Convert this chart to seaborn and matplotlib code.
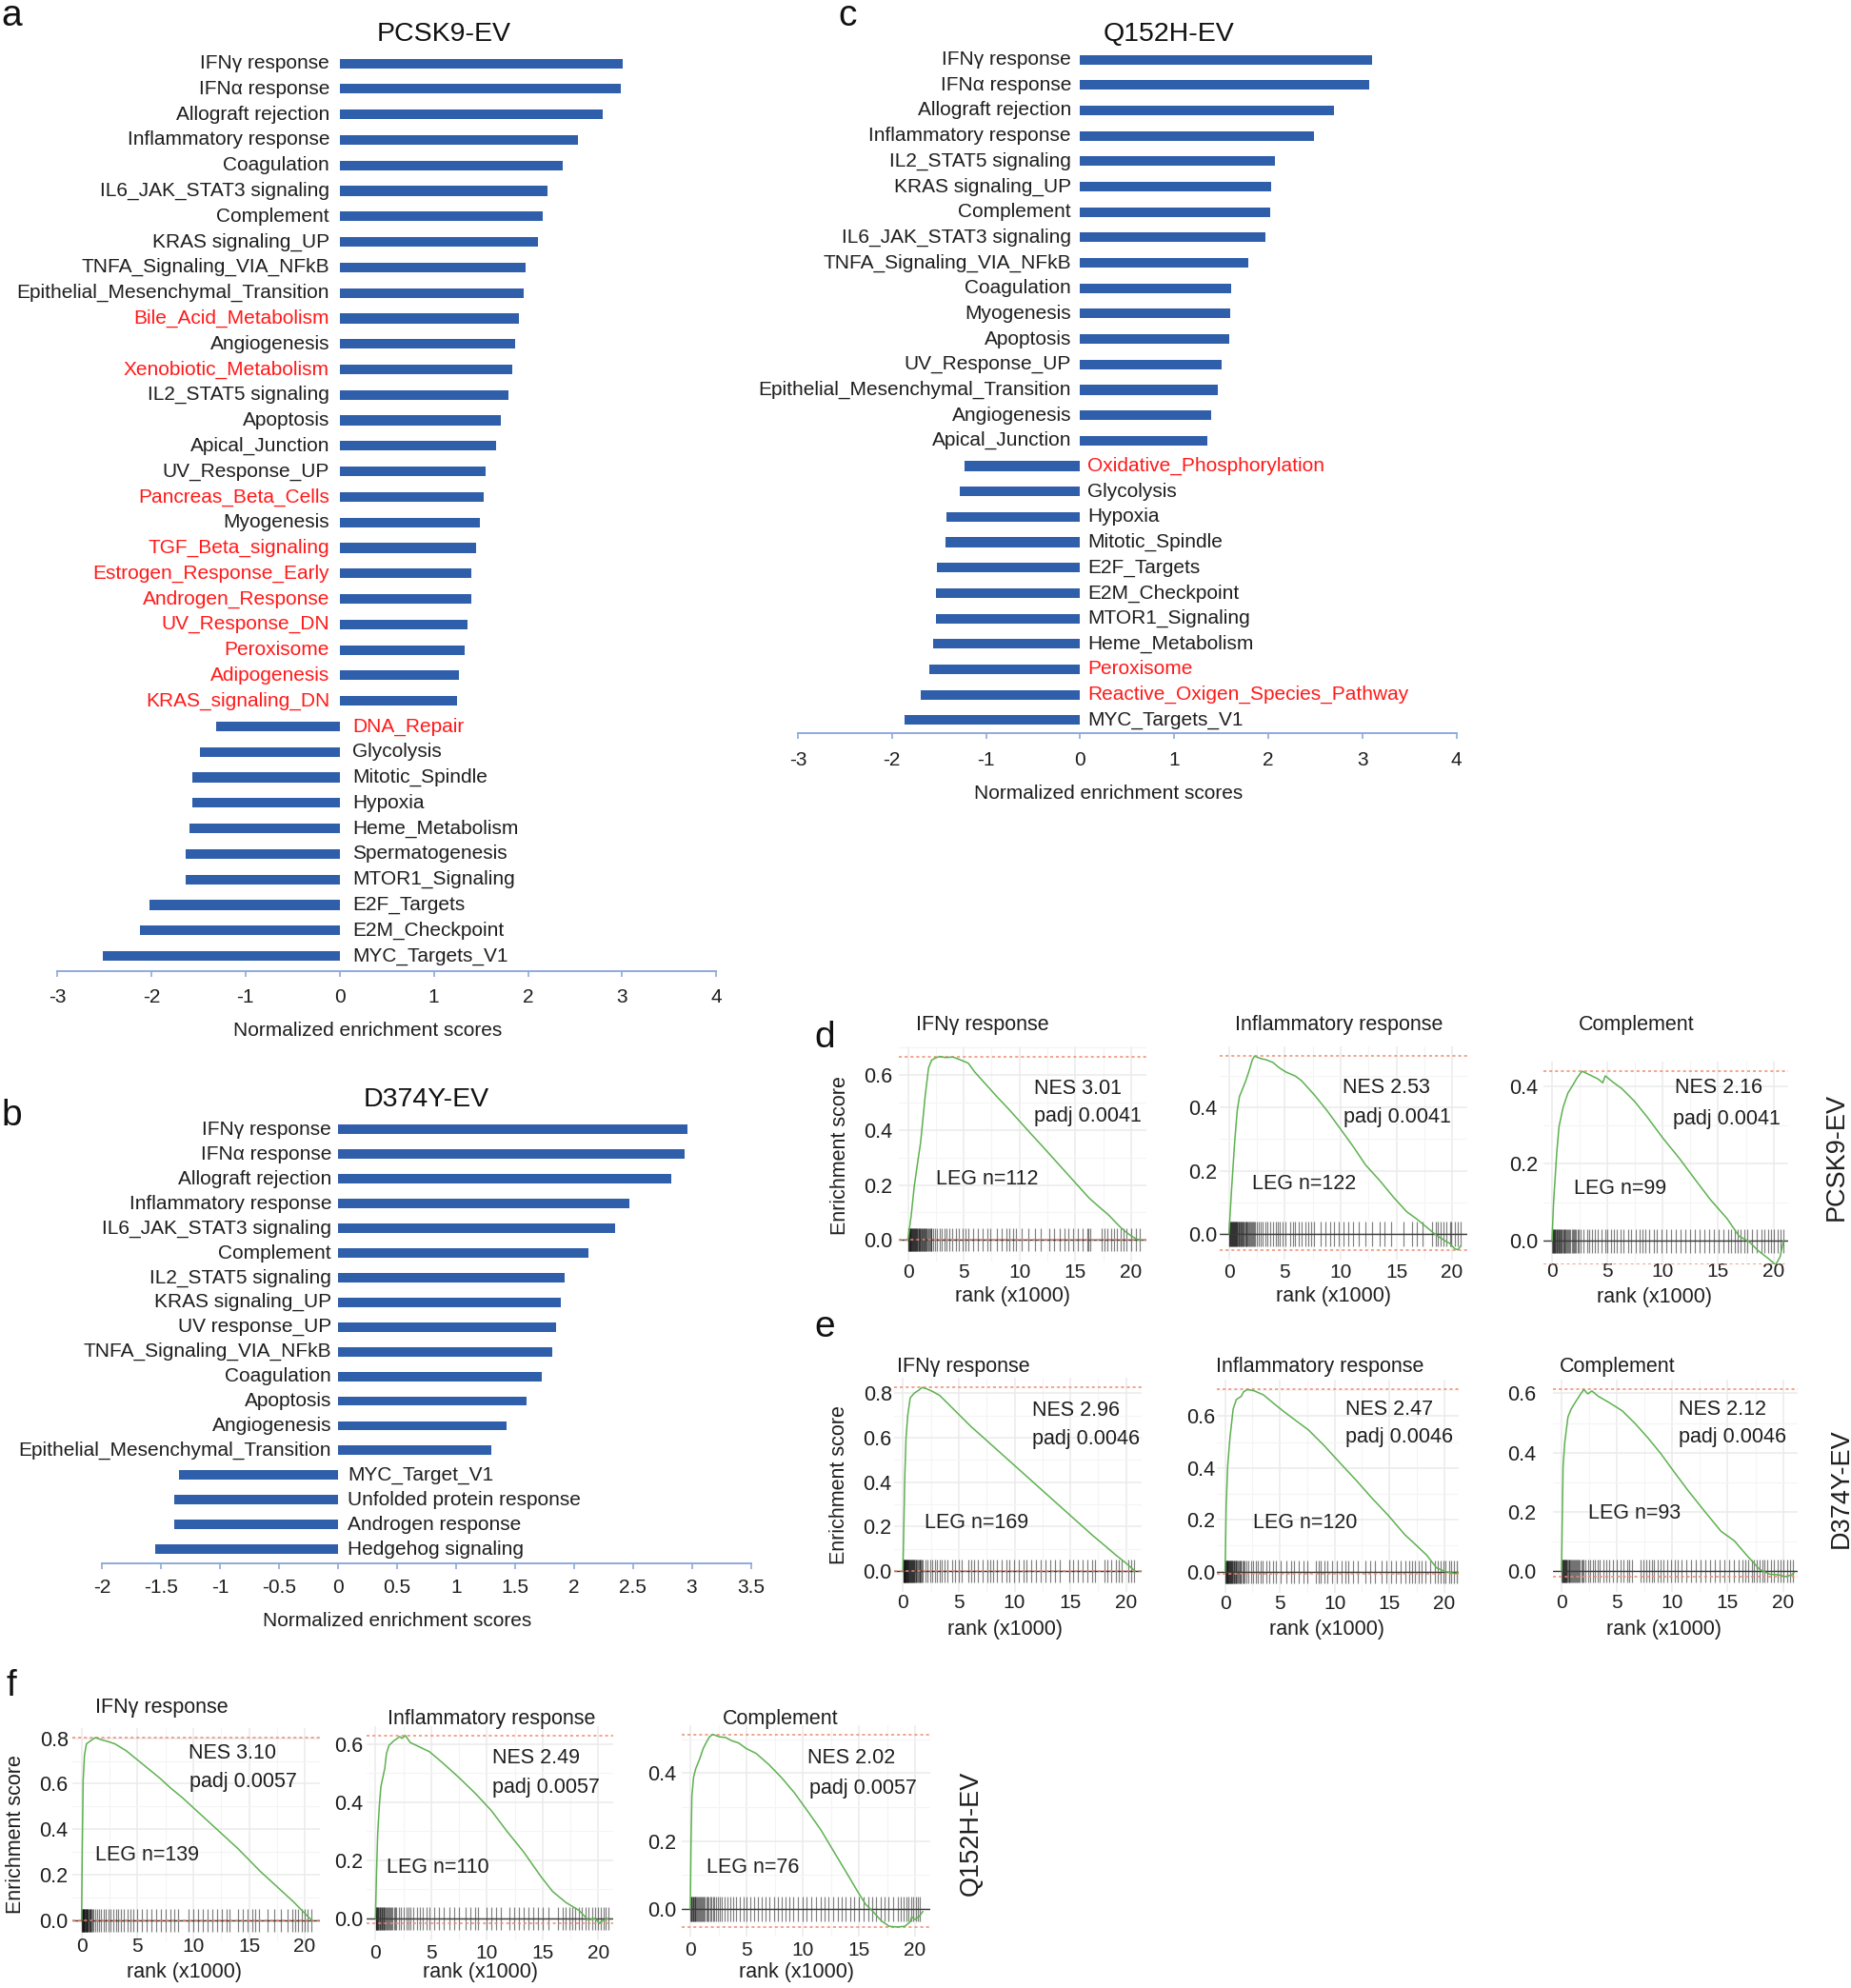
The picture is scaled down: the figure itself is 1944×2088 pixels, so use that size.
import numpy as np
import pandas as pd
import matplotlib
matplotlib.use("Agg")
import matplotlib.pyplot as plt
from matplotlib.transforms import offset_copy
import seaborn as sns

sns.set_theme(style="white")
plt.rcParams["font.family"] = ["Liberation Sans", "DejaVu Sans"]
plt.rcParams["axes.unicode_minus"] = False

# ------------------------------------------------------------------ data
a_terms = ["IFNγ response", "IFNα response", "Allograft rejection", "Inflammatory response",
           "Coagulation", "IL6_JAK_STAT3 signaling", "Complement", "KRAS signaling_UP",
           "TNFA_Signaling_VIA_NFkB", "Epithelial_Mesenchymal_Transition", "Bile_Acid_Metabolism",
           "Angiogenesis", "Xenobiotic_Metabolism", "IL2_STAT5 signaling", "Apoptosis",
           "Apical_Junction", "UV_Response_UP", "Pancreas_Beta_Cells", "Myogenesis",
           "TGF_Beta_signaling", "Estrogen_Response_Early", "Androgen_Response", "UV_Response_DN",
           "Peroxisome", "Adipogenesis", "KRAS_signaling_DN", "DNA_Repair", "Glycolysis",
           "Mitotic_Spindle", "Hypoxia", "Heme_Metabolism", "Spermatogenesis", "MTOR1_Signaling",
           "E2F_Targets", "E2M_Checkpoint", "MYC_Targets_V1"]
a_nes = [3.01, 2.99, 2.79, 2.53, 2.37, 2.21, 2.16, 2.11, 1.97, 1.95, 1.90, 1.86, 1.83, 1.79,
         1.71, 1.66, 1.55, 1.53, 1.49, 1.45, 1.40, 1.40, 1.36, 1.33, 1.27, 1.25, -1.31, -1.48,
         -1.56, -1.56, -1.59, -1.63, -1.64, -2.02, -2.12, -2.51]
a_red = ["Bile_Acid_Metabolism", "Xenobiotic_Metabolism", "Pancreas_Beta_Cells", "TGF_Beta_signaling",
         "Estrogen_Response_Early", "Androgen_Response", "UV_Response_DN", "Peroxisome",
         "Adipogenesis", "KRAS_signaling_DN", "DNA_Repair"]

b_terms = ["IFNγ response", "IFNα response", "Allograft rejection", "Inflammatory response",
           "IL6_JAK_STAT3 signaling", "Complement", "IL2_STAT5 signaling", "KRAS signaling_UP",
           "UV response_UP", "TNFA_Signaling_VIA_NFkB", "Coagulation", "Apoptosis", "Angiogenesis",
           "Epithelial_Mesenchymal_Transition", "MYC_Target_V1", "Unfolded protein response",
           "Androgen response", "Hedgehog signaling"]
b_nes = [2.96, 2.94, 2.83, 2.47, 2.35, 2.12, 1.92, 1.89, 1.85, 1.82, 1.73, 1.60, 1.43, 1.30,
         -1.35, -1.39, -1.39, -1.55]
b_red = []

c_terms = ["IFNγ response", "IFNα response", "Allograft rejection", "Inflammatory response",
           "IL2_STAT5 signaling", "KRAS signaling_UP", "Complement", "IL6_JAK_STAT3 signaling",
           "TNFA_Signaling_VIA_NFkB", "Coagulation", "Myogenesis", "Apoptosis", "UV_Response_UP",
           "Epithelial_Mesenchymal_Transition", "Angiogenesis", "Apical_Junction",
           "Oxidative_Phosphorylation", "Glycolysis", "Hypoxia", "Mitotic_Spindle", "E2F_Targets",
           "E2M_Checkpoint", "MTOR1_Signaling", "Heme_Metabolism", "Peroxisome",
           "Reactive_Oxigen_Species_Pathway", "MYC_Targets_V1"]
c_nes = [3.10, 3.07, 2.70, 2.49, 2.07, 2.03, 2.02, 1.97, 1.79, 1.61, 1.60, 1.59, 1.50, 1.46,
         1.39, 1.35, -1.23, -1.28, -1.42, -1.43, -1.52, -1.53, -1.53, -1.56, -1.60, -1.69, -1.87]
c_red = ["Oxidative_Phosphorylation", "Peroxisome", "Reactive_Oxigen_Species_Pathway"]

bar_titles = ["PCSK9-EV", "D374Y-EV", "Q152H-EV"]
a_ticks = [-3, -2, -1, 0, 1, 2, 3, 4]
a_ticklabels = ["-3", "-2", "-1", "0", "1", "2", "3", "4"]
b_ticks = [-2, -1.5, -1, -0.5, 0, 0.5, 1, 1.5, 2, 2.5, 3, 3.5]
b_ticklabels = ["-2", "-1.5", "-1", "-0.5", "0", "0.5", "1", "1.5", "2", "2.5", "3", "3.5"]
c_ticks = [-3, -2, -1, 0, 1, 2, 3, 4]
c_ticklabels = ["-3", "-2", "-1", "0", "1", "2", "3", "4"]

# GSEA running enrichment curves (rank in thousands, enrichment score)
d_ifng_k = [0, 0.3, 0.57, 0.85, 1.14, 1.35, 1.56, 1.85, 2.13, 2.5, 2.84, 3.4, 4.0, 4.5, 5.4, 6.0,
            7.0, 8.0, 9.0, 10.0, 11.0, 12.0, 13.0, 14.0, 15.0, 16.0, 16.3, 17.0, 18.0, 19.0,
            19.5, 20.0, 20.5, 20.9]
d_ifng_es = [0, 0.09, 0.195, 0.275, 0.354, 0.44, 0.527, 0.625, 0.654, 0.662, 0.667, 0.663, 0.665,
             0.658, 0.643, 0.61, 0.565, 0.52, 0.477, 0.432, 0.387, 0.343, 0.298, 0.253, 0.208,
             0.163, 0.15, 0.125, 0.09, 0.048, 0.03, 0.015, 0.003, 0.0]
d_ifng_hits = [0.03, 0.07, 0.1, 0.14, 0.18, 0.21, 0.25, 0.29, 0.33, 0.37, 0.41, 0.45, 0.49, 0.53,
               0.58, 0.62, 0.66, 0.71, 0.75, 0.8, 0.85, 0.89, 0.94, 0.99, 1.04, 1.09, 1.14, 1.2,
               1.25, 1.31, 1.37, 1.43, 1.49, 1.55, 1.62, 1.68, 1.75, 1.82, 1.9, 1.97, 2.05, 2.13,
               2.22, 2.41, 2.61, 2.84, 3.07, 3.27, 3.47, 3.69, 3.98, 4.32, 4.55, 4.89, 5.17, 5.4,
               5.82, 6.25, 6.68, 7.1, 7.39, 7.95, 8.38, 8.81, 9.09, 9.43, 9.66, 10.23, 10.8,
               11.36, 11.93, 12.64, 13.07, 13.64, 14.06, 14.35, 14.77, 15.2, 15.63, 16.05, 16.19,
               16.34, 17.33, 17.61, 17.9, 18.18, 18.47, 18.75, 19.03, 19.32, 19.6, 20.03, 20.45,
               20.74]

d_inflam_k = [0, 0.23, 0.51, 0.74, 0.94, 1.23, 1.51, 1.8, 2.09, 2.29, 2.8, 3.37, 3.94, 4.51, 5.09,
              5.94, 6.51, 7.66, 8.8, 9.94, 11.09, 12.23, 13.51, 14.8, 15.94, 16.8, 17.66, 18.51,
              19.37, 19.8, 20.23, 20.51, 20.8]
d_inflam_es = [0, 0.139, 0.29, 0.39, 0.435, 0.46, 0.485, 0.516, 0.551, 0.563, 0.556, 0.551, 0.543,
               0.526, 0.513, 0.5, 0.485, 0.44, 0.39, 0.335, 0.279, 0.219, 0.169, 0.114, 0.07,
               0.048, 0.023, -0.002, -0.022, -0.03, -0.047, -0.05, -0.037]
d_inflam_hits = [0.02, 0.06, 0.1, 0.13, 0.17, 0.21, 0.25, 0.29, 0.33, 0.37, 0.42, 0.46, 0.5, 0.55,
                 0.6, 0.64, 0.69, 0.74, 0.79, 0.84, 0.9, 0.95, 1.01, 1.07, 1.13, 1.19, 1.25, 1.31,
                 1.38, 1.45, 1.52, 1.59, 1.66, 1.74, 1.82, 1.9, 1.98, 2.07, 2.16, 2.26, 2.36, 2.47,
                 2.66, 2.86, 3.03, 3.23, 3.43, 3.66, 3.94, 4.17, 4.37, 4.57, 4.8, 5.09, 5.51, 5.71,
                 5.94, 6.29, 6.51, 6.86, 7.09, 7.37, 7.66, 8.23, 8.66, 9.09, 9.37, 9.8, 10.23,
                 10.66, 11.09, 11.66, 12.23, 12.8, 13.51, 13.94, 14.51, 15.66, 16.37, 16.8, 17.37,
                 18.23, 18.51, 18.74, 18.94, 19.23, 19.51, 19.8, 19.94, 20.23, 20.51, 20.8]

d_comp_k = [0, 0.14, 0.43, 0.63, 1.0, 1.43, 1.86, 2.29, 2.72, 3.44, 4.15, 4.58, 4.81, 5.44, 6.3,
            7.45, 8.6, 10.0, 11.5, 12.9, 14.3, 15.8, 16.9, 17.8, 18.6, 19.5, 20.2, 20.6, 20.9]
d_comp_es = [0, 0.099, 0.23, 0.296, 0.346, 0.383, 0.403, 0.424, 0.44, 0.43, 0.42, 0.41, 0.428,
             0.413, 0.395, 0.362, 0.321, 0.267, 0.214, 0.16, 0.107, 0.058, 0.012, -0.002, -0.025,
             -0.045, -0.062, -0.041, 0.0]
d_comp_hits = [0.02, 0.06, 0.1, 0.15, 0.19, 0.24, 0.29, 0.34, 0.39, 0.44, 0.5, 0.56, 0.62, 0.68,
               0.74, 0.8, 0.87, 0.94, 1.01, 1.08, 1.16, 1.24, 1.32, 1.4, 1.49, 1.58, 1.67, 1.77,
               1.87, 1.97, 2.08, 2.19, 2.3, 2.42, 2.55, 2.87, 3.15, 3.38, 3.58, 3.87, 4.15, 4.44,
               4.81, 5.01, 5.3, 5.59, 5.87, 6.16, 6.45, 6.88, 7.16, 7.59, 7.88, 8.17, 8.45, 8.74,
               9.17, 9.46, 9.89, 10.32, 10.74, 11.17, 11.6, 12.03, 12.46, 12.89, 13.32, 13.75,
               14.18, 14.61, 15.04, 15.47, 15.9, 16.19, 16.48, 16.76, 17.05, 17.34, 17.62, 18.05,
               18.48, 18.91, 19.2, 19.48, 19.77, 20.06, 20.34, 20.63, 20.86]

e_ifng_k = [0, 0.085, 0.17, 0.28, 0.43, 0.65, 1.0, 1.42, 1.71, 2.13, 2.7, 3.3, 4.0, 5.0, 6.1, 7.0,
            8.0, 9.0, 10.0, 11.0, 12.0, 13.0, 14.0, 15.0, 16.0, 17.0, 18.0, 19.0, 20.0, 20.8]
e_ifng_es = [0, 0.214, 0.43, 0.6, 0.7, 0.779, 0.8, 0.814, 0.826, 0.82, 0.807, 0.79, 0.755, 0.705,
             0.65, 0.61, 0.565, 0.52, 0.475, 0.43, 0.385, 0.34, 0.295, 0.25, 0.205, 0.16, 0.118,
             0.075, 0.035, 0.0]
e_ifng_hits = [0.02, 0.05, 0.08, 0.11, 0.14, 0.17, 0.2, 0.23, 0.27, 0.3, 0.33, 0.37, 0.4, 0.44,
               0.47, 0.51, 0.55, 0.59, 0.63, 0.67, 0.71, 0.75, 0.8, 0.84, 0.89, 0.94, 0.99, 1.04,
               1.09, 1.15, 1.21, 1.27, 1.33, 1.4, 1.47, 1.54, 1.62, 1.7, 1.78, 1.99, 2.19, 2.42,
               2.65, 2.84, 3.04, 3.27, 3.5, 3.7, 3.98, 4.41, 4.64, 4.98, 5.26, 5.83, 6.12, 6.4,
               6.69, 7.11, 7.54, 7.82, 8.11, 8.39, 8.82, 9.25, 9.53, 9.96, 10.38, 10.81, 11.1,
               11.52, 11.95, 12.38, 12.8, 13.23, 13.66, 14.03, 14.94, 15.22, 15.65, 16.07, 16.5,
               16.93, 17.21, 18.07, 18.35, 18.63, 19.06, 19.35, 19.63, 20.2, 20.48, 20.68]

e_inflam_k = [0, 0.09, 0.23, 0.44, 0.73, 1.02, 1.46, 1.69, 2.04, 2.63, 3.5, 4.38, 5.26, 6.42, 7.6,
              9.05, 10.5, 12.0, 13.4, 14.9, 16.4, 17.5, 18.4, 19.3, 20.1, 21.0, 21.3]
e_inflam_es = [0, 0.247, 0.407, 0.517, 0.627, 0.664, 0.676, 0.694, 0.703, 0.698, 0.682, 0.651,
               0.621, 0.584, 0.547, 0.486, 0.419, 0.351, 0.284, 0.217, 0.143, 0.1, 0.064, 0.015,
               0.0, -0.007, -0.004]
e_inflam_hits = [0.02, 0.05, 0.09, 0.12, 0.16, 0.19, 0.23, 0.27, 0.31, 0.35, 0.39, 0.43, 0.48,
                 0.52, 0.57, 0.62, 0.67, 0.72, 0.77, 0.83, 0.89, 0.95, 1.01, 1.08, 1.15, 1.22, 1.3,
                 1.38, 1.46, 1.55, 1.64, 1.73, 1.9, 2.1, 2.34, 2.57, 2.77, 2.98, 3.21, 3.45, 3.74,
                 4.03, 4.38, 4.67, 5.11, 5.55, 5.99, 6.28, 6.72, 7.15, 7.53, 8.32, 8.53, 8.76,
                 9.05, 9.34, 9.78, 10.22, 10.66, 10.95, 11.24, 11.68, 12.12, 12.85, 13.28, 13.72,
                 14.31, 14.74, 15.18, 15.62, 16.06, 16.5, 16.79, 17.08, 17.37, 17.66, 17.96,
                 18.25, 18.69, 19.12, 19.42, 19.71, 19.91, 20.15, 20.44, 20.67, 20.88, 21.17, 21.37]

e_comp_k = [0, 0.06, 0.14, 0.29, 0.58, 0.87, 1.3, 1.73, 2.02, 2.37, 2.74, 3.32, 4.33, 5.48, 6.64,
            7.79, 8.95, 10.1, 11.5, 13.0, 14.4, 15.6, 16.7, 17.9, 18.8, 19.6, 20.2, 20.8, 21.0]
e_comp_es = [0, 0.161, 0.354, 0.434, 0.52, 0.547, 0.573, 0.598, 0.613, 0.598, 0.608, 0.59, 0.568,
             0.541, 0.498, 0.45, 0.397, 0.338, 0.268, 0.198, 0.134, 0.102, 0.054, 0.005, -0.011,
             -0.013, -0.019, -0.013, -0.005]
e_comp_hits = [0.02, 0.06, 0.1, 0.14, 0.18, 0.23, 0.27, 0.32, 0.37, 0.42, 0.47, 0.53, 0.59, 0.65,
               0.71, 0.78, 0.85, 0.92, 1.0, 1.08, 1.17, 1.26, 1.35, 1.45, 1.55, 1.66, 1.77, 1.88,
               1.99, 2.16, 2.37, 2.6, 2.83, 3.03, 3.23, 3.46, 3.75, 4.04, 4.33, 4.68, 4.96, 5.34,
               5.63, 5.92, 6.12, 6.35, 7.16, 7.36, 7.65, 7.94, 8.14, 8.37, 8.66, 8.95, 9.24,
               9.52, 9.87, 10.25, 10.53, 10.82, 11.26, 11.69, 12.12, 12.55, 12.99, 13.42, 13.85,
               14.29, 14.72, 15.15, 15.58, 16.02, 16.31, 16.59, 16.88, 17.17, 17.37, 17.6, 17.89,
               18.12, 18.33, 18.61, 18.9, 19.19, 19.48, 19.77, 20.06, 20.35, 20.63, 20.92]

f_ifng_k = [0, 0.06, 0.14, 0.26, 0.43, 0.8, 1.23, 1.8, 2.4, 3.0, 4.0, 5.0, 6.0, 7.0, 8.0, 9.0,
            10.0, 11.0, 12.0, 13.0, 14.0, 15.0, 16.0, 17.0, 18.0, 19.0, 19.8, 20.6]
f_ifng_es = [0, 0.307, 0.615, 0.726, 0.775, 0.789, 0.803, 0.793, 0.785, 0.775, 0.745, 0.705, 0.665,
             0.625, 0.58, 0.54, 0.495, 0.45, 0.405, 0.36, 0.315, 0.265, 0.215, 0.17, 0.125, 0.08,
             0.04, 0.0]
f_ifng_hits = [0.02, 0.05, 0.08, 0.11, 0.14, 0.17, 0.2, 0.23, 0.26, 0.3, 0.33, 0.37, 0.41, 0.45,
               0.49, 0.53, 0.57, 0.62, 0.67, 0.72, 0.77, 0.83, 0.89, 0.95, 1.09, 1.23, 1.4, 1.58,
               1.75, 1.95, 2.15, 2.38, 2.61, 2.84, 3.09, 3.3, 3.52, 3.81, 4.1, 4.38, 4.61, 4.96,
               5.39, 5.82, 6.25, 6.68, 7.11, 7.54, 7.97, 8.34, 8.68, 9.54, 9.97, 10.4, 10.83,
               11.26, 11.69, 12.12, 12.55, 12.98, 13.27, 13.98, 14.41, 14.84, 15.27, 15.56, 15.9,
               16.7, 17.28, 17.85, 18.42, 18.85, 19.14, 19.43, 19.71, 20.0, 20.29, 20.57]

f_inflam_k = [0, 0.09, 0.2, 0.35, 0.49, 0.7, 0.84, 0.99, 1.22, 1.66, 2.18, 2.39, 2.68, 3.12, 3.99,
              4.86, 6.03, 7.48, 8.94, 10.4, 11.8, 13.3, 14.8, 15.9, 17.1, 18.3, 19.1, 19.7, 20.1,
              20.5, 20.9]
f_inflam_es = [0, 0.147, 0.289, 0.387, 0.453, 0.491, 0.516, 0.567, 0.595, 0.611, 0.625, 0.619,
               0.629, 0.605, 0.589, 0.573, 0.535, 0.485, 0.431, 0.371, 0.3, 0.229, 0.147, 0.093,
               0.055, 0.027, -0.005, 0.0, -0.016, -0.005, 0.0]
f_inflam_hits = [0.02, 0.06, 0.1, 0.14, 0.18, 0.23, 0.27, 0.32, 0.37, 0.42, 0.47, 0.53, 0.59,
                 0.65, 0.71, 0.78, 0.85, 0.92, 1.0, 1.08, 1.16, 1.25, 1.34, 1.44, 1.54, 1.65, 1.76,
                 1.88, 2.1, 2.3, 2.53, 2.77, 2.97, 3.17, 3.41, 3.7, 3.99, 4.28, 4.57, 4.86, 5.3,
                 5.74, 6.17, 6.61, 7.05, 7.48, 8.06, 8.5, 8.94, 9.23, 9.96, 10.39, 10.83, 11.27,
                 11.99, 12.43, 12.87, 13.3, 13.74, 14.18, 14.61, 15.05, 15.49, 16.36, 16.8, 17.09,
                 17.38, 17.67, 17.96, 18.25, 18.54, 18.84, 19.13, 19.42, 19.71, 20.0, 20.23,
                 20.47, 20.7, 20.93]

f_comp_k = [0, 0.06, 0.14, 0.29, 0.49, 0.86, 1.14, 1.43, 1.71, 2.0, 2.57, 3.14, 3.71, 4.29, 5.0,
            5.86, 7.0, 8.14, 9.29, 10.4, 11.6, 12.7, 13.9, 14.9, 15.6, 16.3, 17.0, 17.7, 18.4,
            19.1, 19.6, 19.7, 20.0, 20.4, 20.7]
f_comp_es = [0, 0.192, 0.332, 0.388, 0.414, 0.444, 0.472, 0.491, 0.507, 0.514, 0.507, 0.505,
             0.495, 0.489, 0.472, 0.458, 0.425, 0.386, 0.341, 0.29, 0.234, 0.173, 0.107, 0.051,
             0.014, -0.009, -0.035, -0.051, -0.053, -0.051, -0.037, -0.023, -0.031, -0.021,
             -0.007]
f_comp_hits = [0.02, 0.07, 0.12, 0.17, 0.22, 0.28, 0.34, 0.4, 0.46, 0.53, 0.6, 0.67, 0.75, 0.83,
               0.91, 1.0, 1.09, 1.19, 1.29, 1.4, 1.51, 1.63, 1.75, 1.88, 2.01, 2.15, 2.3, 2.46,
               2.62, 2.82, 3.05, 3.31, 3.53, 3.81, 4.1, 4.38, 4.72, 5.0, 5.37, 5.65, 6.02, 6.36,
               6.69, 7.06, 7.43, 7.77, 8.11, 8.47, 8.84, 9.18, 9.6, 9.97, 10.31, 10.73, 11.16,
               11.58, 11.95, 12.29, 12.71, 13.14, 13.47, 13.84, 14.27, 14.6, 14.97, 15.4, 15.82,
               16.19, 16.53, 16.95, 17.32, 17.66, 18.08, 18.45, 18.73, 19.01, 19.21, 19.41,
               19.63, 19.86, 20.06, 20.25, 20.42]

gsea_titles = ["IFNγ response", "Inflammatory response", "Complement"] * 3
gsea_nes = [3.01, 2.53, 2.16, 2.96, 2.47, 2.12, 3.10, 2.49, 2.02]
gsea_padj = ["0.0041", "0.0041", "0.0041", "0.0046", "0.0046", "0.0046", "0.0057", "0.0057", "0.0057"]
gsea_leg = [112, 122, 99, 169, 120, 93, 139, 110, 76]
gsea_rows = ["PCSK9-EV", "D374Y-EV", "Q152H-EV"]
rank_ticks = [0, 5, 10, 15, 20]

# ------------------------------------------------------------------ style / layout
W, H = 1944, 2088
BAR = "#2F5EAA"
AXBLUE = "#8EA9DB"
TXT = "#1E1E1E"
RED = "#FF1A1A"
GREEN = "#5DB14F"
REDDASH = "#F08A6E"

fig = plt.figure(figsize=(W / 100, H / 100), dpi=100)
fig.patch.set_facecolor("white")


def ftext(px, py, s, **kw):
    kw.setdefault("va", "center")
    kw.setdefault("color", TXT)
    return fig.text(px / W, 1 - py / H, s, **kw)


def bar_panel(terms, nes, red_terms, ticks, ticklabels, L):
    n = len(terms)
    sp = (L["last"] - L["first"]) / (n - 1)
    top_val = -0.8
    bot_val = (n - 1) + (L["axis"] - L["last"]) / sp
    top_px = L["first"] + top_val * sp
    ax = fig.add_axes([L["pxlo"] / W, 1 - L["axis"] / H,
                       (L["pxhi"] - L["pxlo"]) / W, (L["axis"] - top_px) / H])
    df = pd.DataFrame({"term": terms, "nes": nes})
    sns.barplot(data=df, x="nes", y="term", orient="h", color=BAR, saturation=1,
                width=0.38, linewidth=0, ax=ax)
    ax.set_xlim(L["xlo"], L["xhi"])
    ax.set_ylim(bot_val, top_val)
    ax.set_yticks([])
    ax.set_xlabel("")
    ax.set_ylabel("")
    for s in ["top", "right", "left"]:
        ax.spines[s].set_visible(False)
    ax.spines["bottom"].set_color(AXBLUE)
    ax.spines["bottom"].set_linewidth(1.4)
    ax.set_xticks(ticks)
    ax.set_xticklabels(ticklabels)
    pad = (L["tly"] - L["axis"] - 5.5 - 11.4) * 0.72
    ax.tick_params(axis="x", bottom=True, direction="out", length=4, width=1.2, color=AXBLUE,
                   labelsize=15, labelcolor=TXT, pad=pad)
    tpos = offset_copy(ax.transData, fig=fig, x=-L["gap_pos"] * 0.72, y=0, units="points")
    tneg = offset_copy(ax.transData, fig=fig, x=L["gap_neg"] * 0.72, y=0, units="points")
    for i, (t, v) in enumerate(zip(terms, nes)):
        c = RED if t in red_terms else TXT
        if v >= 0:
            ax.text(0, i, t, ha="right", va="center", fontsize=15, color=c, transform=tpos)
        else:
            ax.text(0, i, t, ha="left", va="center", fontsize=15, color=c, transform=tneg)
    return ax


bar_layout = {
    "a": dict(xlo=-3, xhi=4, pxlo=60, pxhi=752.3, first=66.6, last=1004, axis=1020,
              tly=1049, gap_pos=10.7, gap_neg=13.3, title=(466, 36), xlabel=(386, 1083)),
    "b": dict(xlo=-2, xhi=3.5, pxlo=107, pxhi=788.5, first=1186.4, last=1627.1, axis=1641.7,
              tly=1669.7, gap_pos=6.7, gap_neg=10.6, title=(447.4, 1155.5), xlabel=(416.8, 1703)),
    "c": dict(xlo=-3, xhi=4, pxlo=838, pxhi=1529.5, first=62.6, last=756.3, axis=769.6,
              tly=800.2, gap_pos=9.4, gap_neg=8, title=(1227.6, 36), xlabel=(1163.7, 833.5)),
}

for key, terms, nes, red, tk, tl, ttl in [
        ("a", a_terms, a_nes, a_red, a_ticks, a_ticklabels, bar_titles[0]),
        ("b", b_terms, b_nes, b_red, b_ticks, b_ticklabels, bar_titles[1]),
        ("c", c_terms, c_nes, c_red, c_ticks, c_ticklabels, bar_titles[2])]:
    L = bar_layout[key]
    bar_panel(terms, nes, red, tk, tl, L)
    ftext(*L["title"], ttl, ha="center", fontsize=20.5, color="#111111")
    ftext(*L["xlabel"], "Normalized enrichment scores", ha="center", fontsize=15)


def gsea_panel(k, es, hits, L):
    k = np.asarray(k, dtype=float)
    es = np.asarray(es, dtype=float)
    emax, emin = es.max(), es.min()
    h = (emax - emin) / 16
    lo, hi = min(emin, -h), max(emax, h)
    R = hi - lo
    ylim = (lo - L.get("exp_lo", 0.05) * R, hi + 0.05 * R)
    xlim = (-0.8, 21.35)
    left = L["x0"] + xlim[0] * L["pxk"]
    right = L["x0"] + xlim[1] * L["pxk"]
    top = L["y0"] - ylim[1] * L["pyu"]
    bottom = L["y0"] - ylim[0] * L["pyu"]
    ax = fig.add_axes([left / W, 1 - bottom / H, (right - left) / W, (bottom - top) / H])
    ax.set_facecolor("white")
    ax.set_xlim(xlim)
    ax.set_ylim(ylim)
    ax.set_xticks(rank_ticks)
    ax.set_xticks([2.5, 7.5, 12.5, 17.5], minor=True)
    ax.set_xticklabels([str(t) for t in rank_ticks])
    yt = L["yt"]
    ax.set_yticks(yt)
    ax.set_yticks([v + 0.1 for v in yt if v + 0.1 < ylim[1]], minor=True)
    ax.set_yticklabels([f"{v:.1f}" for v in yt])
    ax.grid(which="major", color="#EBEBEB", lw=1.1)
    ax.grid(which="minor", color="#F4F4F4", lw=0.8)
    ax.set_axisbelow(True)
    for s in ax.spines.values():
        s.set_visible(False)
    ax.vlines(hits, -h, h, color="black", lw=0.85, alpha=0.5, zorder=2)
    ax.axhline(0, color="#3A3A3A", lw=1.0, zorder=2.5)
    ax.axhline(emax, color=REDDASH, lw=1.1, ls=(0, (2, 2)), zorder=2.5)
    ax.axhline(emin, color=REDDASH, lw=1.1, ls=(0, (2, 2)), zorder=2.5)
    sns.lineplot(x=k, y=es, ax=ax, color=GREEN, lw=1.1, errorbar=None, sort=False, zorder=3)
    xpad = (L["xtl"] - bottom - 11.4) * 0.72
    ypad = max((left - L["ytr"]) * 0.72, 0.5)
    ax.tick_params(axis="x", which="both", length=0, pad=xpad, labelsize=15, labelcolor=TXT)
    ax.tick_params(axis="y", which="both", length=0, pad=ypad, labelsize=15.5, labelcolor=TXT)
    ax.set_xlabel("")
    ax.set_ylabel("")
    return ax


gsea_layout = [
    dict(x0=953.5, pxk=11.72, y0=1302.3, pyu=288.9, ytr=937.3, xtl=1338.3, yt=[0, 0.2, 0.4, 0.6],
         title=(961.7, 1076.7), nes=(1086, 1143.3), padj=(1086, 1172.7), leg=(982.7, 1238.3),
         xlab=(1063, 1361.7)),
    dict(x0=1290.7, pxk=11.72, y0=1296.0, pyu=331.7, ytr=1278, xtl=1338.3, yt=[0, 0.2, 0.4],
         title=(1296.7, 1076.7), nes=(1410, 1142.7), padj=(1410.7, 1173.3), leg=(1315, 1243.3),
         xlab=(1400, 1361.7)),
    dict(x0=1630.0, pxk=11.63, y0=1303.3, pyu=405.0, ytr=1615, xtl=1337.5, yt=[0, 0.2, 0.4],
         exp_lo=0.0,
         title=(1658.3, 1076.7), nes=(1759.3, 1142.7), padj=(1756.7, 1175), leg=(1652.7, 1248.3),
         xlab=(1737.5, 1362.5)),
    dict(x0=948.3, pxk=11.72, y0=1650.0, pyu=233.3, ytr=936.7, xtl=1685, yt=[0, 0.2, 0.4, 0.6, 0.8],
         title=(941.7, 1435), nes=(1084, 1481.7), padj=(1084, 1511.7), leg=(971, 1599.3),
         xlab=(1055, 1711.7)),
    dict(x0=1286.7, pxk=11.5, y0=1650.7, pyu=272.2, ytr=1276.7, xtl=1686, yt=[0, 0.2, 0.4, 0.6],
         title=(1277.3, 1435), nes=(1412.7, 1480), padj=(1412.7, 1510), leg=(1316, 1599.3),
         xlab=(1393, 1711.7)),
    dict(x0=1640.0, pxk=11.63, y0=1650.0, pyu=311.0, ytr=1613, xtl=1685, yt=[0, 0.2, 0.4, 0.6],
         title=(1638.3, 1435), nes=(1762.7, 1480), padj=(1762.7, 1510), leg=(1668.3, 1589.3),
         xlab=(1747.5, 1711.7)),
    dict(x0=85.7, pxk=11.72, y0=2016.7, pyu=238.75, ytr=71.7, xtl=2046.7, yt=[0, 0.2, 0.4, 0.6, 0.8],
         title=(100, 1793.3), nes=(198.3, 1841.7), padj=(199.3, 1871.7), leg=(100, 1948.3),
         xlab=(193, 2071.7)),
    dict(x0=394.3, pxk=11.7, y0=2015.0, pyu=305.6, ytr=381.7, xtl=2053, yt=[0, 0.2, 0.4, 0.6],
         title=(406.7, 1805), nes=(516.7, 1846), padj=(516.7, 1877.3), leg=(406, 1961.7),
         xlab=(504, 2071.7)),
    dict(x0=725.0, pxk=11.8, y0=2005.0, pyu=356.7, ytr=710, xtl=2050, yt=[0, 0.2, 0.4],
         title=(759, 1805), nes=(848.3, 1846.7), padj=(850, 1878.3), leg=(741.7, 1961.7),
         xlab=(836.7, 2071.7)),
]

curves = [(d_ifng_k, d_ifng_es, d_ifng_hits), (d_inflam_k, d_inflam_es, d_inflam_hits),
          (d_comp_k, d_comp_es, d_comp_hits), (e_ifng_k, e_ifng_es, e_ifng_hits),
          (e_inflam_k, e_inflam_es, e_inflam_hits), (e_comp_k, e_comp_es, e_comp_hits),
          (f_ifng_k, f_ifng_es, f_ifng_hits), (f_inflam_k, f_inflam_es, f_inflam_hits),
          (f_comp_k, f_comp_es, f_comp_hits)]

for i, ((kk, ee, hh), L) in enumerate(zip(curves, gsea_layout)):
    gsea_panel(kk, ee, hh, L)
    ftext(*L["title"], gsea_titles[i], ha="left", fontsize=15.5)
    ftext(*L["nes"], f"NES {gsea_nes[i]:.2f}", ha="left", fontsize=15.5)
    ftext(*L["padj"], f"padj {gsea_padj[i]}", ha="left", fontsize=15.5)
    ftext(*L["leg"], f"LEG n={gsea_leg[i]}", ha="left", fontsize=15.5)
    ftext(*L["xlab"], "rank (x1000)", ha="center", fontsize=15.5)

# y labels and row labels
for (px, py) in [(882, 1214), (881.7, 1560), (16.7, 1926.7)]:
    ftext(px, py, "Enrichment score", ha="center", rotation=90, fontsize=15.5)
for (px, py), s in zip([(1928.3, 1215), (1933.3, 1563.3), (1020, 1925)], gsea_rows):
    ftext(px, py, s, ha="center", rotation=90, fontsize=19.5)

# panel letters
for (px, py), s in zip([(12, 17), (12, 1172), (890, 17), (866, 1090), (866, 1394), (12, 1771)],
                       ["a", "b", "c", "d", "e", "f"]):
    ftext(px, py, s, ha="center", fontsize=28, color="#111111")

fig.savefig("out.png", dpi=100, facecolor="white")
